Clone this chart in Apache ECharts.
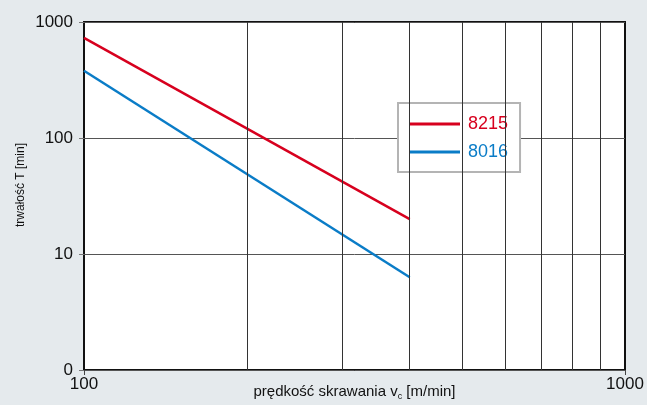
<!DOCTYPE html>
<html><head><meta charset="utf-8">
<script src="https://cdn.jsdelivr.net/npm/echarts@6/dist/echarts.min.js"></script>
<style>html,body{margin:0;padding:0;background:#e5eaed;}#c{width:647px;height:405px;}</style>
</head><body><div id="c"></div>
<script>
const seriesNames = ['8215', '8016'];
const speed = [100, 400];
const life8215 = [730, 20];
const life8016 = [380, 6.3];
const xGridValues = [200, 300, 400, 500, 600, 700, 800, 900];
const yTicks = [1, 10, 100, 1000];
const colors = ['#d7001e', '#0a7cc7'];

const chart = echarts.init(document.getElementById('c'));
const font = '"Liberation Sans", Arial, sans-serif';
chart.setOption({
  backgroundColor: '#e5eaed',
  animation: false,
  grid: { left: 84, right: 22, top: 22, bottom: 35, containLabel: false, outerBoundsMode: 'none',
    show: true, backgroundColor: '#fff', borderColor: '#111', borderWidth: 2 },
  legend: {
    orient: 'vertical', left: 398, top: 103,
    padding: [12, 12, 11, 12], itemGap: 10,
    backgroundColor: '#fff', borderColor: '#b4b4b4', borderWidth: 2, borderRadius: 0,
    icon: 'rect', itemWidth: 50, itemHeight: 3,
    textStyle: { fontFamily: font, fontSize: 18, lineHeight: 18, padding: [0, 0, 0, 3] },
    data: seriesNames.map((n, i) => ({ name: n, textStyle: { color: colors[i] } }))
  },
  xAxis: {
    type: 'log', logBase: 10, min: 100, max: 1000,
    name: '{n|prędkość skrawania v}{s|c}{n| [m/min]}',
    nameLocation: 'middle', nameGap: 12, nameMoveOverlap: false,
    nameTextStyle: { rich: {
      n: { fontFamily: font, fontSize: 15, color: '#111' },
      s: { fontFamily: font, fontSize: 9, color: '#111', padding: [10, 0, 0, 0] }
    } },
    axisLine: { show: false },
    axisTick: { show: true, length: 5, lineStyle: { color: '#444' } },
    axisLabel: { fontFamily: font, fontSize: 17, color: '#111', margin: 6, formatter: v => String(v) },
    splitLine: { show: false }
  },
  yAxis: {
    type: 'log', logBase: 10, min: 1, max: 1000,
    name: 'trwałość T [min]', nameLocation: 'middle', nameGap: 57, nameRotate: 90, nameMoveOverlap: false,
    nameTextStyle: { fontFamily: font, fontSize: 12, color: '#111', padding: [0, 0, 0, 22] },
    axisLine: { show: false },
    axisTick: { show: true, length: 5, lineStyle: { color: '#777' } },
    axisLabel: { fontFamily: font, fontSize: 17, color: '#111', margin: 11,
      formatter: v => (v === yTicks[0] ? '0' : String(v)) },
    splitLine: { show: true, lineStyle: { color: '#555', width: 1 } }
  },
  series: [
    {
      name: 'grid', type: 'line', data: [], z: 1, silent: true,
      markLine: { silent: true, symbol: 'none', label: { show: false }, animation: false,
        lineStyle: { color: '#333', width: 1, type: 'solid' },
        data: xGridValues.map(v => ({ xAxis: v })) }
    },
    { name: seriesNames[0], type: 'line', z: 3, data: speed.map((s, i) => [s, life8215[i]]),
      showSymbol: false, lineStyle: { color: colors[0], width: 2.5 }, itemStyle: { color: colors[0] } },
    { name: seriesNames[1], type: 'line', z: 3, data: speed.map((s, i) => [s, life8016[i]]),
      showSymbol: false, lineStyle: { color: colors[1], width: 2.5 }, itemStyle: { color: colors[1] } }
  ]
});
</script></body></html>
